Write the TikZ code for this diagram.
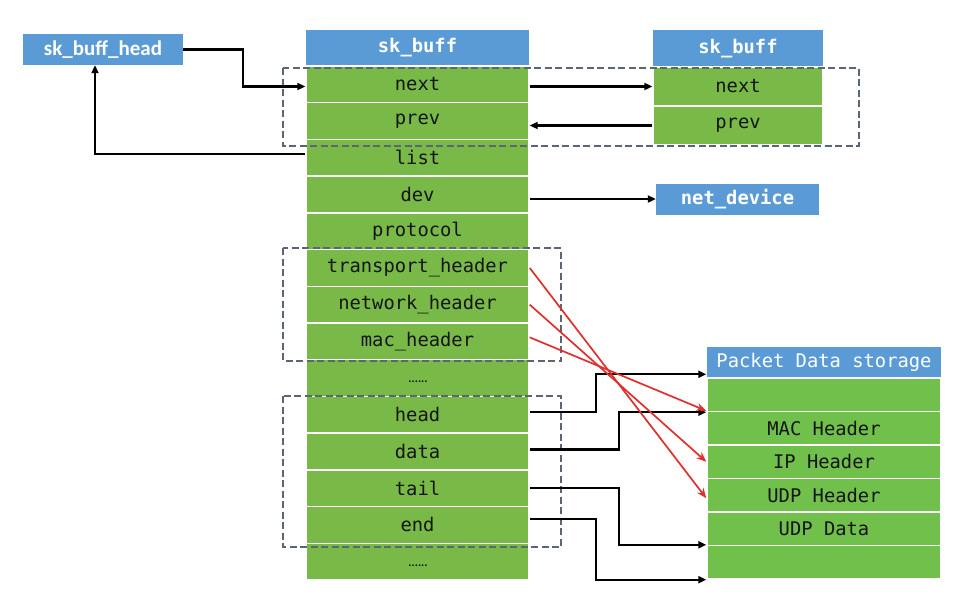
\documentclass[tikz,border=0pt]{standalone}
\usepackage{fontspec}
\setmonofont{DejaVu Sans Mono}
\newfontfamily\calib{Carlito}
\usetikzlibrary{arrows.meta,calc}
\definecolor{hblue}{HTML}{5B9BD5}
\definecolor{cgreen}{HTML}{78B947}
\definecolor{pgreen}{HTML}{70C04B}
\definecolor{dgray}{HTML}{5B6577}
\definecolor{rline}{HTML}{E0302B}
\definecolor{tdark}{HTML}{151515}
\begin{document}
\begin{tikzpicture}[x=1pt,y=-1pt,
  hdr/.style={fill=hblue,draw=none,inner sep=0pt,text=white,
    font=\ttfamily\bfseries\fontsize{18.8}{18.8}\selectfont},
  cell/.style={fill=cgreen,draw=white,line width=1.4pt,inner sep=0pt,text=tdark,
    font=\ttfamily\fontsize{18.8}{18.8}\selectfont},
  pcell/.style={cell,fill=pgreen},
  dots/.style={font=\calib\bfseries\fontsize{12}{12}\selectfont,text=tdark,inner sep=0pt},
  dbox/.style={draw=dgray,line width=2pt,dash pattern=on 7pt off 3.5pt},
  arr/.style={draw=black,line width=2.2pt,-{Triangle[length=8pt,width=7pt]}},
  rarr/.style={draw=rline,line width=1.7pt,-{Stealth[length=10pt,width=8pt]}}]
\useasboundingbox (0,0) rectangle (968,606);
\fill[white] (0,0) rectangle (968,606);

% sk_buff_head
\node[hdr,minimum width=160pt,minimum height=31pt,
  font=\calib\bfseries\fontsize{21}{21}\selectfont] (skh) at (103,49.5) {sk\_buff\_head};

% main sk_buff column
\node[hdr,minimum width=223pt,minimum height=36pt] (mh) at (417.5,48) {sk\_buff};
\foreach \nm/\txt [count=\i from 0] in {next/next,prev/prev,list/list,dev/dev,proto/protocol,
   th/transport\_header,nh/network\_header,mh/mac\_header,dA/{},head/head,data/data,
   tail/tail,end/end,dB/{}}{
  \node[cell,minimum width=223pt,minimum height=36.71pt] (r-\nm) at (417.5,{84.36+\i*36.71}) {\txt};
}
\node[dots] (d1) at (418,{84.36+8*36.71+4}) {......};
\node[dots] (d2) at (418,{84.36+13*36.71+4}) {......};

% right sk_buff
\node[hdr,minimum width=170pt,minimum height=37pt] (rh) at (738,48.5) {sk\_buff};
\node[cell,minimum width=170pt,minimum height=39pt] (rn) at (738,86.5) {next};
\node[cell,minimum width=170pt,minimum height=39pt] (rp) at (738,125.5) {prev};

% net_device
\node[hdr,minimum width=163pt,minimum height=31pt] (nd) at (737.5,199) {net\_device};

% packet data storage
\node[hdr,minimum width=234pt,minimum height=31pt,font=\ttfamily\fontsize{18.8}{18.8}\selectfont] (ph) at (824,362.5) {Packet Data storage};
\foreach \txt [count=\i] in {{},MAC Header,IP Header,UDP Header,UDP Data,{}}{
  \node[pcell,minimum width=234pt,minimum height=33.5pt] (p\i) at (824,{378+(\i-0.5)*33.5}) {\txt};
}

% dashed groups
\draw[dbox] (283,68) rectangle (859,146);
\draw[dbox] (283,248) rectangle (561,361);
\draw[dbox] (283,396) rectangle (561,547);

% list pointers
\draw[arr] (skh.east) -- ++(60,0) |- (r-next.west |- rn.west);
\draw[arr] (r-next.east |- rn.west) -- (rn.west);
\draw[arr] (rp.west) -- (r-prev.east |- rp.west);
\draw[arr] ([yshift=4]r-list.west) -| ([xshift=-8]skh.south);
\draw[arr] (r-dev.east |- nd.west) -- (nd.west);

% buffer pointers
\draw[arr] ([yshift=3]r-head.east) -- ++(66,0) |- ([yshift=3]p1.north west);
\draw[arr] ([yshift=2]r-data.east) -- ++(89,0) |- (p1.south west);
\draw[arr] (r-tail.east) -- ++(89,0) |- (p6.north west);
\draw[arr] ([yshift=6]r-end.east) -- ++(66,0) |- (p6.south west);

% header pointers
\draw[rarr] (r-th.east) -- ([yshift=-3]p4.west);
\draw[rarr] (r-nh.east) -- (p3.west);
\draw[rarr] ([yshift=4]r-mh.east) -- (p2.north west);
\end{tikzpicture}
\end{document}
